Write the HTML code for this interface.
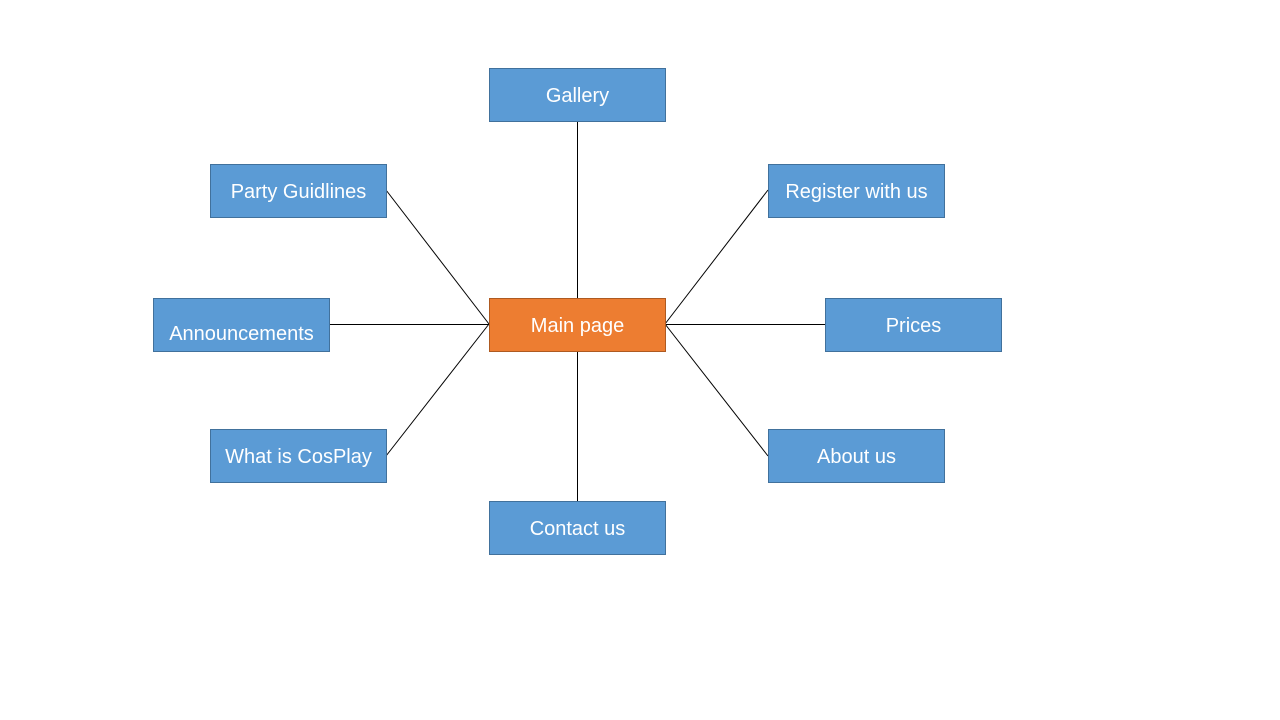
<!DOCTYPE html>
<html><head><meta charset="utf-8"><style>
html,body{margin:0;padding:0;background:#fff;}
body{width:1280px;height:720px;position:relative;overflow:hidden;font-family:"Liberation Sans",sans-serif;}
.b{position:absolute;width:177px;height:54px;background:#5B9BD5;border:1px solid #41719C;box-sizing:border-box;color:#fff;font-size:20px;display:flex;align-items:center;justify-content:center;white-space:nowrap;padding-top:2px;}
.o{background:#ED7D31;border-color:#AE5A21;}
svg{position:absolute;left:0;top:0;}
</style></head><body>
<svg width="1280" height="720" stroke="#000" stroke-width="1">
<line x1="577.5" y1="121" x2="577.5" y2="298"/>
<line x1="386" y1="190" x2="489" y2="324"/>
<line x1="329" y1="324.5" x2="489" y2="324.5"/>
<line x1="386" y1="456" x2="489" y2="324"/>
<line x1="768" y1="190" x2="665" y2="324"/>
<line x1="825" y1="324.5" x2="665" y2="324.5"/>
<line x1="768" y1="456" x2="665" y2="324"/>
<line x1="577.5" y1="351" x2="577.5" y2="501"/>
</svg>
<div class="b" style="left:489px;top:68px;">Gallery</div>
<div class="b" style="left:210px;top:164px;">Party Guidlines</div>
<div class="b" style="left:768px;top:164px;">Register with us</div>
<div class="b" style="left:153px;top:298px;padding-top:18px;">Announcements</div>
<div class="b o" style="left:489px;top:298px;">Main page</div>
<div class="b" style="left:825px;top:298px;">Prices</div>
<div class="b" style="left:210px;top:429px;">What is CosPlay</div>
<div class="b" style="left:768px;top:429px;">About us</div>
<div class="b" style="left:489px;top:501px;">Contact us</div>
</body></html>
